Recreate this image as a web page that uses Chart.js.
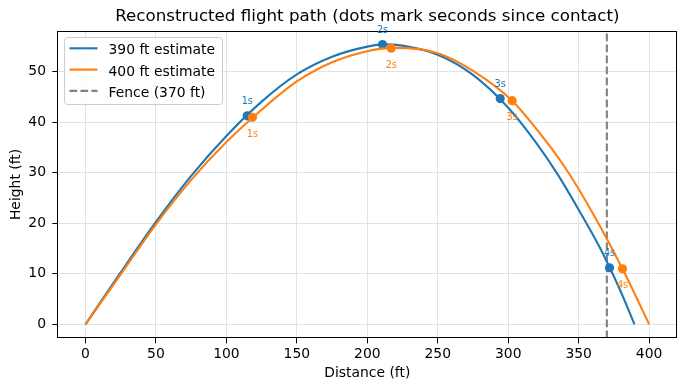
<!DOCTYPE html>
<html>
<head>
<meta charset="utf-8">
<script src="https://cdn.jsdelivr.net/npm/chart.js@4.4.1/dist/chart.umd.min.js"></script>
<style>
  html, body { margin: 0; padding: 0; background: #fff; }
  #wrap { width: 687px; height: 391px; }
</style>
</head>
<body>
<div id="wrap"><canvas id="flightChart" width="687" height="391"></canvas></div>
<script>
// (ft)
const distance390 = [0, 25, 50, 75, 100, 125, 150, 175, 200, 212, 225, 250, 275, 300, 320, 335, 350, 365, 380, 389.6];
const height390   = [0, 10.3, 20.3, 29.4, 37.3, 44.1, 49.5, 53.0, 55.0, 55.45, 55.2, 53.4, 49.4, 42.9, 35.9, 29.75, 22.7, 15.2, 6.4, 0];

const distance400 = [0, 25, 50, 75, 100, 125, 150, 175, 200, 220, 250, 275, 302.8, 320, 340, 360, 381.1, 391, 400];
const height400   = [0, 9.9, 19.8, 28.6, 36.1, 42.5, 48.1, 51.9, 54.1, 54.75, 53.7, 50.2, 44.3, 38.7, 31.2, 22.0, 11.0, 5.3, 0];

const secondLabels = ['1s', '2s', '3s', '4s'];
const dotDistance390 = [114.8, 210.8, 294.3, 371.9];
const dotHeight390   = [41.3, 55.4, 44.7, 11.2];
const dotDistance400 = [118.5, 217.0, 302.8, 381.1];
const dotHeight400   = [41.0, 54.7, 44.3, 11.0];

const fenceDistance = 370;

const xTicks = [0, 50, 100, 150, 200, 250, 300, 350, 400];
const yTicks = [0, 10, 20, 30, 40, 50];
const xLimits = [-20, 420];
const yLimits = [-2.77, 58.17];

const BLUE = '#1f77b4';
const ORANGE = '#ff7f0e';
const GREY = '#808080';
const GRID = '#e2e2e2';
const FONT = "'DejaVu Sans', sans-serif";
const TEXT_SIZE = 13.9;

function toPoints(xs, ys) {
    return xs.map((x, i) => ({ x: x, y: ys[i] }));
}

// black box round the plot, like matplotlib spines
const frame = {
    id: 'frame',
    afterDatasetsDraw(chart) {
        const { ctx, chartArea: a } = chart;
        ctx.save();
        ctx.strokeStyle = '#000';
        ctx.lineWidth = 1;
        ctx.strokeRect(Math.round(a.left) + 0.5, Math.round(a.top) + 0.5,
            Math.round(a.right) - Math.round(a.left) - 1, Math.round(a.bottom) - Math.round(a.top) - 1);
        ctx.restore();
    }
};

// "1s", "2s"... next to each dot
const dotLabels = {
    id: 'dotLabels',
    afterDatasetsDraw(chart) {
        const ctx = chart.ctx;
        ctx.save();
        ctx.font = '9.7px ' + FONT;
        ctx.textAlign = 'center';
        ctx.textBaseline = 'alphabetic';
        chart.data.datasets.forEach((ds, i) => {
            if (!ds.pointLabels) return;
            const meta = chart.getDatasetMeta(i);
            ctx.fillStyle = ds.backgroundColor;
            meta.data.forEach((pt, j) => {
                ctx.fillText(ds.pointLabels[j], pt.x, pt.y + ds.labelShift);
            });
        });
        ctx.restore();
    }
};

// legend box in the upper left corner
const legendBox = {
    id: 'legendBox',
    afterDraw(chart) {
        const { ctx, chartArea: a } = chart;
        const items = chart.data.datasets.filter(d => d.legendText);
        ctx.save();
        ctx.font = TEXT_SIZE + 'px ' + FONT;
        const textW = Math.max(...items.map(d => ctx.measureText(d.legendText).width));
        const left = Math.round(a.left + 6.7) + 0.5;
        const top = Math.round(a.top + 6.7) + 0.5;
        const w = Math.round(5 + 28 + 11 + textW + 7.5);
        const h = 67;
        ctx.beginPath();
        if (ctx.roundRect) ctx.roundRect(left, top, w, h, 3);
        else ctx.rect(left, top, w, h);
        ctx.fillStyle = 'rgba(255,255,255,0.8)';
        ctx.fill();
        ctx.strokeStyle = '#cccccc';
        ctx.lineWidth = 1;
        ctx.stroke();
        items.forEach((d, i) => {
            const y = top + 10.8 + i * 21.3;
            ctx.beginPath();
            ctx.setLineDash(d.borderDash || []);
            ctx.strokeStyle = d.borderColor;
            ctx.lineWidth = d.borderWidth;
            ctx.moveTo(left + 5, y);
            ctx.lineTo(left + 33, y);
            ctx.stroke();
            ctx.setLineDash([]);
            ctx.fillStyle = '#000';
            ctx.textAlign = 'left';
            ctx.textBaseline = 'alphabetic';
            ctx.fillText(d.legendText, left + 44, y + 6);
        });
        ctx.restore();
    }
};

function axisFont() {
    return { family: FONT, size: TEXT_SIZE, weight: 'normal' };
}

const ctx = document.getElementById('flightChart').getContext('2d');
new Chart(ctx, {
    type: 'scatter',
    data: {
        datasets: [
            {
                legendText: '390 ft estimate',
                data: toPoints(distance390, height390),
                showLine: true,
                borderColor: BLUE,
                backgroundColor: BLUE,
                borderWidth: 2.1,
                pointRadius: 0,
                cubicInterpolationMode: 'monotone',
                order: 4
            },
            {
                data: toPoints(dotDistance390, dotHeight390),
                pointLabels: secondLabels,
                labelShift: -11.3,
                backgroundColor: BLUE,
                borderWidth: 0,
                pointRadius: 4.6,
                order: 3
            },
            {
                legendText: '400 ft estimate',
                data: toPoints(distance400, height400),
                showLine: true,
                borderColor: ORANGE,
                backgroundColor: ORANGE,
                borderWidth: 2.1,
                pointRadius: 0,
                cubicInterpolationMode: 'monotone',
                order: 2
            },
            {
                data: toPoints(dotDistance400, dotHeight400),
                pointLabels: secondLabels,
                labelShift: 19.4,
                backgroundColor: ORANGE,
                borderWidth: 0,
                pointRadius: 4.6,
                order: 1
            },
            {
                legendText: 'Fence (370 ft)',
                data: [{ x: fenceDistance, y: yLimits[0] }, { x: fenceDistance, y: yLimits[1] }],
                showLine: true,
                borderColor: GREY,
                backgroundColor: GREY,
                borderWidth: 2.1,
                borderDash: [7.7, 3.3],
                pointRadius: 0,
                order: 5
            }
        ]
    },
    options: {
        responsive: false,
        animation: false,
        devicePixelRatio: 1,
        events: [],
        layout: { padding: { left: 0, right: 9.7, top: 0, bottom: 0 } },
        plugins: {
            legend: { display: false },
            tooltip: { enabled: false },
            title: {
                display: true,
                fullSize: false,
                text: 'Reconstructed flight path (dots mark seconds since contact)',
                color: '#000',
                font: { family: FONT, size: 16.7, weight: 'normal', lineHeight: 1.15 },
                padding: { top: 6.6, bottom: 4.8 }
            }
        },
        scales: {
            x: {
                type: 'linear',
                position: 'bottom',
                min: xLimits[0],
                max: xLimits[1],
                afterBuildTicks: s => { s.ticks = xTicks.map(v => ({ value: v })); },
                afterFit: s => { s.height = 52.7; },
                grid: { color: GRID, lineWidth: 1, tickColor: '#000', tickLength: 5, tickWidth: 1 },
                border: { display: false },
                ticks: { color: '#000', font: axisFont(), padding: 3, maxRotation: 0, callback: v => String(v) },
                title: { display: true, text: 'Distance (ft)', color: '#000', font: axisFont(), padding: { top: 0, bottom: 9.3 } }
            },
            y: {
                type: 'linear',
                min: yLimits[0],
                max: yLimits[1],
                afterBuildTicks: s => { s.ticks = yTicks.map(v => ({ value: v })); },
                afterFit: s => { s.width = 57.3; },
                grid: { color: GRID, lineWidth: 1, tickColor: '#000', tickLength: 5, tickWidth: 1 },
                border: { display: false },
                ticks: { color: '#000', font: axisFont(), padding: 6.3, callback: v => String(v) },
                title: { display: true, text: 'Height (ft)', color: '#000', font: axisFont(), padding: { top: 8, bottom: 0 } }
            }
        }
    },
    plugins: [frame, dotLabels, legendBox]
});
</script>
</body>
</html>
